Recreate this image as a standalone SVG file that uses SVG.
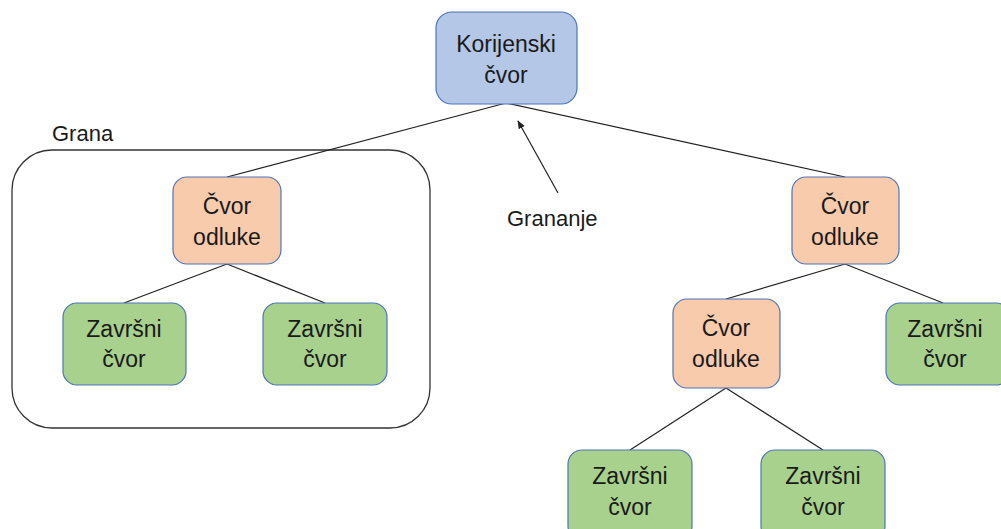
<svg xmlns="http://www.w3.org/2000/svg" width="1001" height="529" viewBox="0 0 1001 529">
<defs>
<style>
.n rect{stroke:#4F75B8;stroke-width:1.2}
.root rect{fill:#B4C7E7}
.dec rect{fill:#F8CBAD}
.leaf rect{fill:#A9D18E}
text{font-family:"Liberation Sans",Arial,sans-serif;font-size:23px;fill:#1a1a1a;text-anchor:middle}
.lbl{font-size:22px;text-anchor:start}
#edges line{stroke:#222;stroke-width:1.2}
</style>
<marker id="ah" viewBox="0 0 10 10" refX="9" refY="5" markerWidth="7" markerHeight="7" orient="auto">
<path d="M0,1 L10,5 L0,9 z" fill="#222"/>
</marker>
</defs>
<rect width="1001" height="529" fill="#fff"/>
<g id="branch">
<rect x="12" y="150" width="418" height="278" rx="40" fill="none" stroke="#333" stroke-width="1.3"/>
<text class="lbl" x="52" y="141">Grana</text>
</g>
<g id="edges">
<line x1="506" y1="103" x2="227" y2="177"/>
<line x1="506" y1="103" x2="845" y2="177"/>
<line x1="227" y1="264" x2="124" y2="303"/>
<line x1="227" y1="264" x2="325" y2="303"/>
<line x1="845" y1="264" x2="726" y2="299"/>
<line x1="845" y1="264" x2="943" y2="303"/>
<line x1="726" y1="388" x2="630" y2="450"/>
<line x1="726" y1="388" x2="823" y2="450"/>
<line x1="558" y1="193" x2="518" y2="121" marker-end="url(#ah)"/>
</g>
<g id="grananje"><text class="lbl" x="507" y="226">Grananje</text></g>
<g id="root" class="n root">
<rect x="436" y="12" width="141" height="92" rx="16"/>
<text x="506" y="52">Korijenski</text>
<text x="506" y="83">čvor</text>
</g>
<g id="dec1" class="n dec">
<rect x="173" y="177" width="108" height="87" rx="14"/>
<text x="227" y="214">Čvor</text>
<text x="227" y="245">odluke</text>
</g>
<g id="leaf1" class="n leaf">
<rect x="63" y="303" width="123" height="82" rx="14"/>
<text x="124" y="337">Završni</text>
<text x="124" y="367">čvor</text>
</g>
<g id="leaf2" class="n leaf">
<rect x="263" y="303" width="124" height="82" rx="14"/>
<text x="325" y="337">Završni</text>
<text x="325" y="367">čvor</text>
</g>
<g id="dec2" class="n dec">
<rect x="792" y="177" width="107" height="87" rx="14"/>
<text x="845" y="214">Čvor</text>
<text x="845" y="245">odluke</text>
</g>
<g id="dec3" class="n dec">
<rect x="673" y="299" width="107" height="89" rx="14"/>
<text x="726" y="336">Čvor</text>
<text x="726" y="367">odluke</text>
</g>
<g id="leaf3" class="n leaf">
<rect x="886" y="303" width="124" height="82" rx="14"/>
<text x="945" y="337">Završni</text>
<text x="945" y="367">čvor</text>
</g>
<g id="leaf4" class="n leaf">
<rect x="568" y="450" width="124" height="90" rx="14"/>
<text x="630" y="484">Završni</text>
<text x="630" y="515">čvor</text>
</g>
<g id="leaf5" class="n leaf">
<rect x="761" y="450" width="124" height="90" rx="14"/>
<text x="823" y="484">Završni</text>
<text x="823" y="515">čvor</text>
</g>
</svg>
